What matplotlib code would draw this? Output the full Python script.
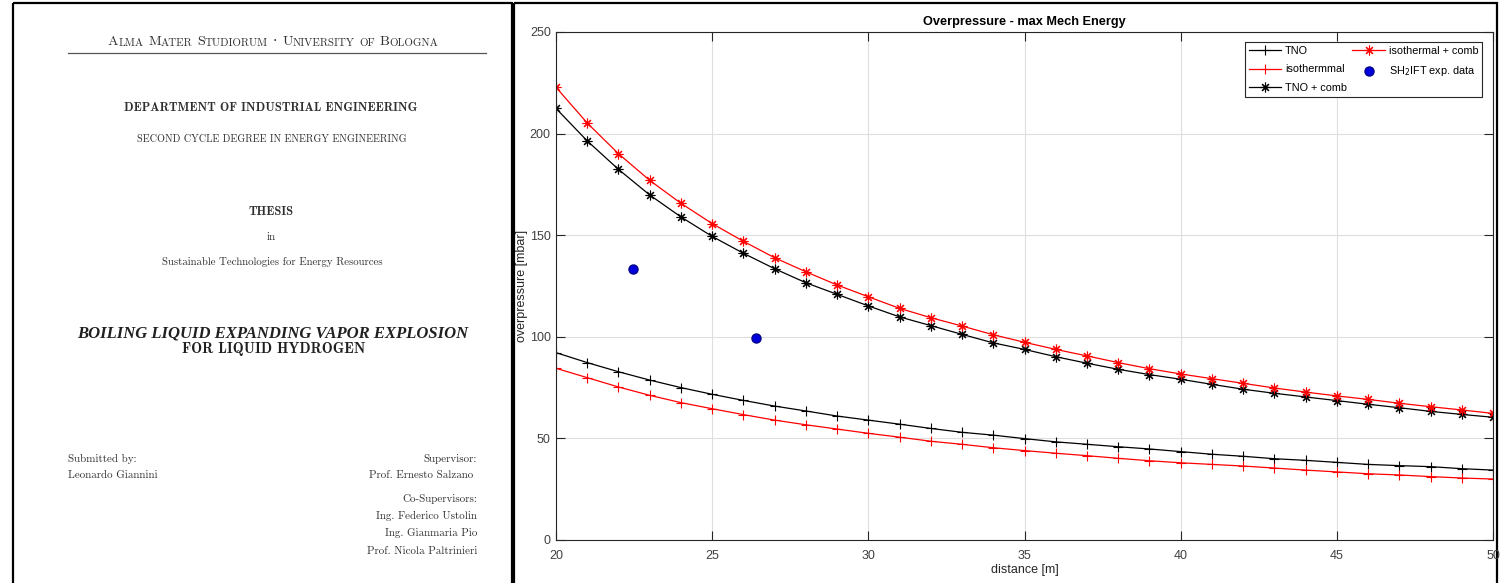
import numpy as np
import matplotlib
matplotlib.use("Agg")
import matplotlib.pyplot as plt
from matplotlib.patches import Rectangle

# data
distance = np.arange(20, 51)
tno = [92.2, 87.3, 82.8, 78.7, 75.0, 71.7, 68.7, 65.9, 63.5, 61.0,
       59.0, 57.0, 54.9, 53.0, 51.6, 49.9, 48.3, 47.1, 45.9, 44.8,
       43.5, 42.2, 41.2, 40.0, 39.2, 38.2, 37.2, 36.6, 36.1, 35.1, 34.4]
isothermal = [84.5, 79.9, 75.3, 71.2, 67.6, 64.6, 61.7, 59.0, 56.7, 54.6,
              52.5, 50.6, 48.6, 47.1, 45.4, 44.0, 42.7, 41.5, 40.2, 39.0,
              38.0, 37.2, 36.4, 35.4, 34.4, 33.5, 32.6, 32.0, 31.2, 30.5, 30.0]
tno_comb = [212.4, 196.4, 182.4, 169.8, 159.0, 149.4, 141.1, 133.5, 126.6, 120.9,
            115.2, 109.8, 105.5, 101.2, 97.0, 93.8, 90.2, 87.0, 84.0, 81.4,
            79.1, 76.6, 74.2, 72.2, 70.4, 68.6, 66.8, 65.1, 63.3, 61.8, 60.4]
iso_comb = [222.8, 205.2, 190.1, 177.0, 165.7, 155.7, 147.0, 138.9, 132.0, 125.5,
            119.7, 114.0, 109.4, 105.3, 101.0, 97.3, 93.8, 90.6, 87.3, 84.3,
            81.7, 79.4, 77.1, 74.8, 72.8, 70.9, 69.2, 67.3, 65.6, 64.0, 62.3]
exp_x = [22.45, 26.4]
exp_y = [133.3, 99.2]

xticks = [20, 25, 30, 35, 40, 45, 50]
yticks = [0, 50, 100, 150, 200, 250]

fig = plt.figure(figsize=(15.04, 5.83), dpi=100)

# full-figure layer in pixel coordinates for the title page and the frames
page = fig.add_axes([0, 0, 1, 1])
page.set_xlim(0, 1504)
page.set_ylim(583, 0)
page.axis('off')

page.add_patch(Rectangle((13, 3), 499, 600, fill=False, lw=1.6, ec='black'))
page.add_patch(Rectangle((514, 3), 983, 600, fill=False, lw=1.6, ec='black'))

ink = '#303030'
rm = ['cmr10', 'DejaVu Serif']
bf = ['cmb10', 'DejaVu Serif']

# small caps header, chained piece by piece
header = [("A", 1, 0), ("LMA", 0, 0), ("M", 1, 3.3), ("ATER", 0, 0), ("S", 1, 3.3),
          ("TUDIORUM", 0, 0), ("\u00b7", 1, 3.6), ("U", 1, 3.6), ("NIVERSITY", 0, 0),
          ("OF", 0, 3.3), ("B", 1, 3.3), ("OLOGNA", 0, 0)]
prev = None
for s, big, gap in header:
    size = 10.1 if big else 7.9
    if prev is None:
        prev = page.text(108, 48, s, fontsize=size, family=rm, color=ink, va='bottom')
    else:
        prev = page.annotate(s, xy=(1, 0), xycoords=prev, xytext=(gap, 0),
                             textcoords='offset points', fontsize=size, family=rm,
                             color=ink, va='bottom')
page.plot([68, 486], [53, 53], color='#555555', lw=0.9)

page.text(271, 111, "DEPARTMENT OF INDUSTRIAL ENGINEERING", fontsize=8.9, family=bf,
          color=ink, ha='center', va='baseline')
page.text(272, 142, "SECOND CYCLE DEGREE IN ENERGY ENGINEERING", fontsize=7.3, family=rm,
          color=ink, ha='center', va='baseline')
page.text(271, 215, "THESIS", fontsize=8.9, family=bf, color=ink, ha='center', va='baseline')
page.text(271, 240, "in", fontsize=7.9, family=rm, color=ink, ha='center', va='baseline')
page.text(272, 265, "Sustainable Technologies for Energy Resources", fontsize=7.8, family=rm,
          color=ink, ha='center', va='baseline')
page.text(273, 337, "BOILING LIQUID EXPANDING VAPOR EXPLOSION", fontsize=12,
          family='Liberation Serif', weight='bold', style='italic', color='#202020',
          ha='center', va='baseline')
page.text(274, 353, "FOR LIQUID HYDROGEN", fontsize=10.5, family=bf, color='#202020',
          ha='center', va='baseline')

page.text(68, 462, "Submitted by:", fontsize=7.9, family=rm, color=ink, va='baseline')
page.text(68, 478, "Leonardo Giannini", fontsize=7.9, family=rm, color=ink, va='baseline')
right_lines = [("Supervisor:", 477, 462), ("Prof. Ernesto Salzano", 473, 478),
               ("Co-Supervisors:", 477, 502), ("Ing. Federico Ustolin", 477, 519),
               ("Ing. Gianmaria Pio", 477, 536), ("Prof. Nicola Paltrinieri", 477, 554)]
for s, x, y in right_lines:
    page.text(x, y, s, fontsize=7.9, family=rm, color=ink, ha='right', va='baseline')

# the MATLAB-style plot
sans = 'Liberation Sans'
ax = fig.add_axes([556 / 1504, 43 / 583, 937 / 1504, 508 / 583])
asterisk = (8, 2, 0)
ax.plot(distance, tno, color='black', lw=0.9, marker='+', ms=7, mew=0.8, label='TNO')
ax.plot(distance, isothermal, color='red', lw=0.9, marker='+', ms=7, mew=0.8, label='isothermmal')
ax.plot(distance, tno_comb, color='black', lw=0.9, marker=asterisk, ms=7, mew=0.8, label='TNO + comb')
ax.plot(distance, iso_comb, color='red', lw=0.9, marker=asterisk, ms=7, mew=0.8, label='isothermal + comb')
ax.plot(exp_x, exp_y, ls='none', marker='o', ms=6.5, mfc='#0000dd', mec='#00008b',
        label='SH$_2$IFT exp. data')

ax.set_xlim(20, 50)
ax.set_ylim(0, 250)
ax.set_xticks(xticks)
ax.set_yticks(yticks)
ax.grid(True, color='#dedede', lw=0.8)
ax.set_axisbelow(True)
ax.tick_params(direction='in', length=6.5, width=0.8, top=True, right=True,
               color='#262626', labelcolor='#404040', labelsize=9)
ax.tick_params(axis='x', pad=7)
ax.tick_params(axis='y', pad=3.8)
for lab in ax.get_xticklabels() + ax.get_yticklabels():
    lab.set_family(sans)
for sp in ax.spines.values():
    sp.set_color('#262626')
    sp.set_linewidth(0.8)

ax.set_title("Overpressure - max Mech Energy", fontsize=9.2, weight='bold', family=sans,
             color='black', pad=5)
ax.set_xlabel("distance [m]", fontsize=9, family=sans, color='#262626', labelpad=2)
ax.set_ylabel("overpressure [mbar]", fontsize=9, family=sans, color='#262626', labelpad=1)

leg = ax.legend(ncol=2, loc='upper right', bbox_to_anchor=(0.9883, 0.9803), borderaxespad=0,
                prop={'family': sans, 'size': 7.8}, handlelength=3.0, borderpad=0.35,
                labelspacing=0.8, columnspacing=0.5, handletextpad=0.35,
                fancybox=False, framealpha=1, edgecolor='#262626')
leg.get_frame().set_linewidth(0.8)

fig.savefig('out.png', dpi=100)
